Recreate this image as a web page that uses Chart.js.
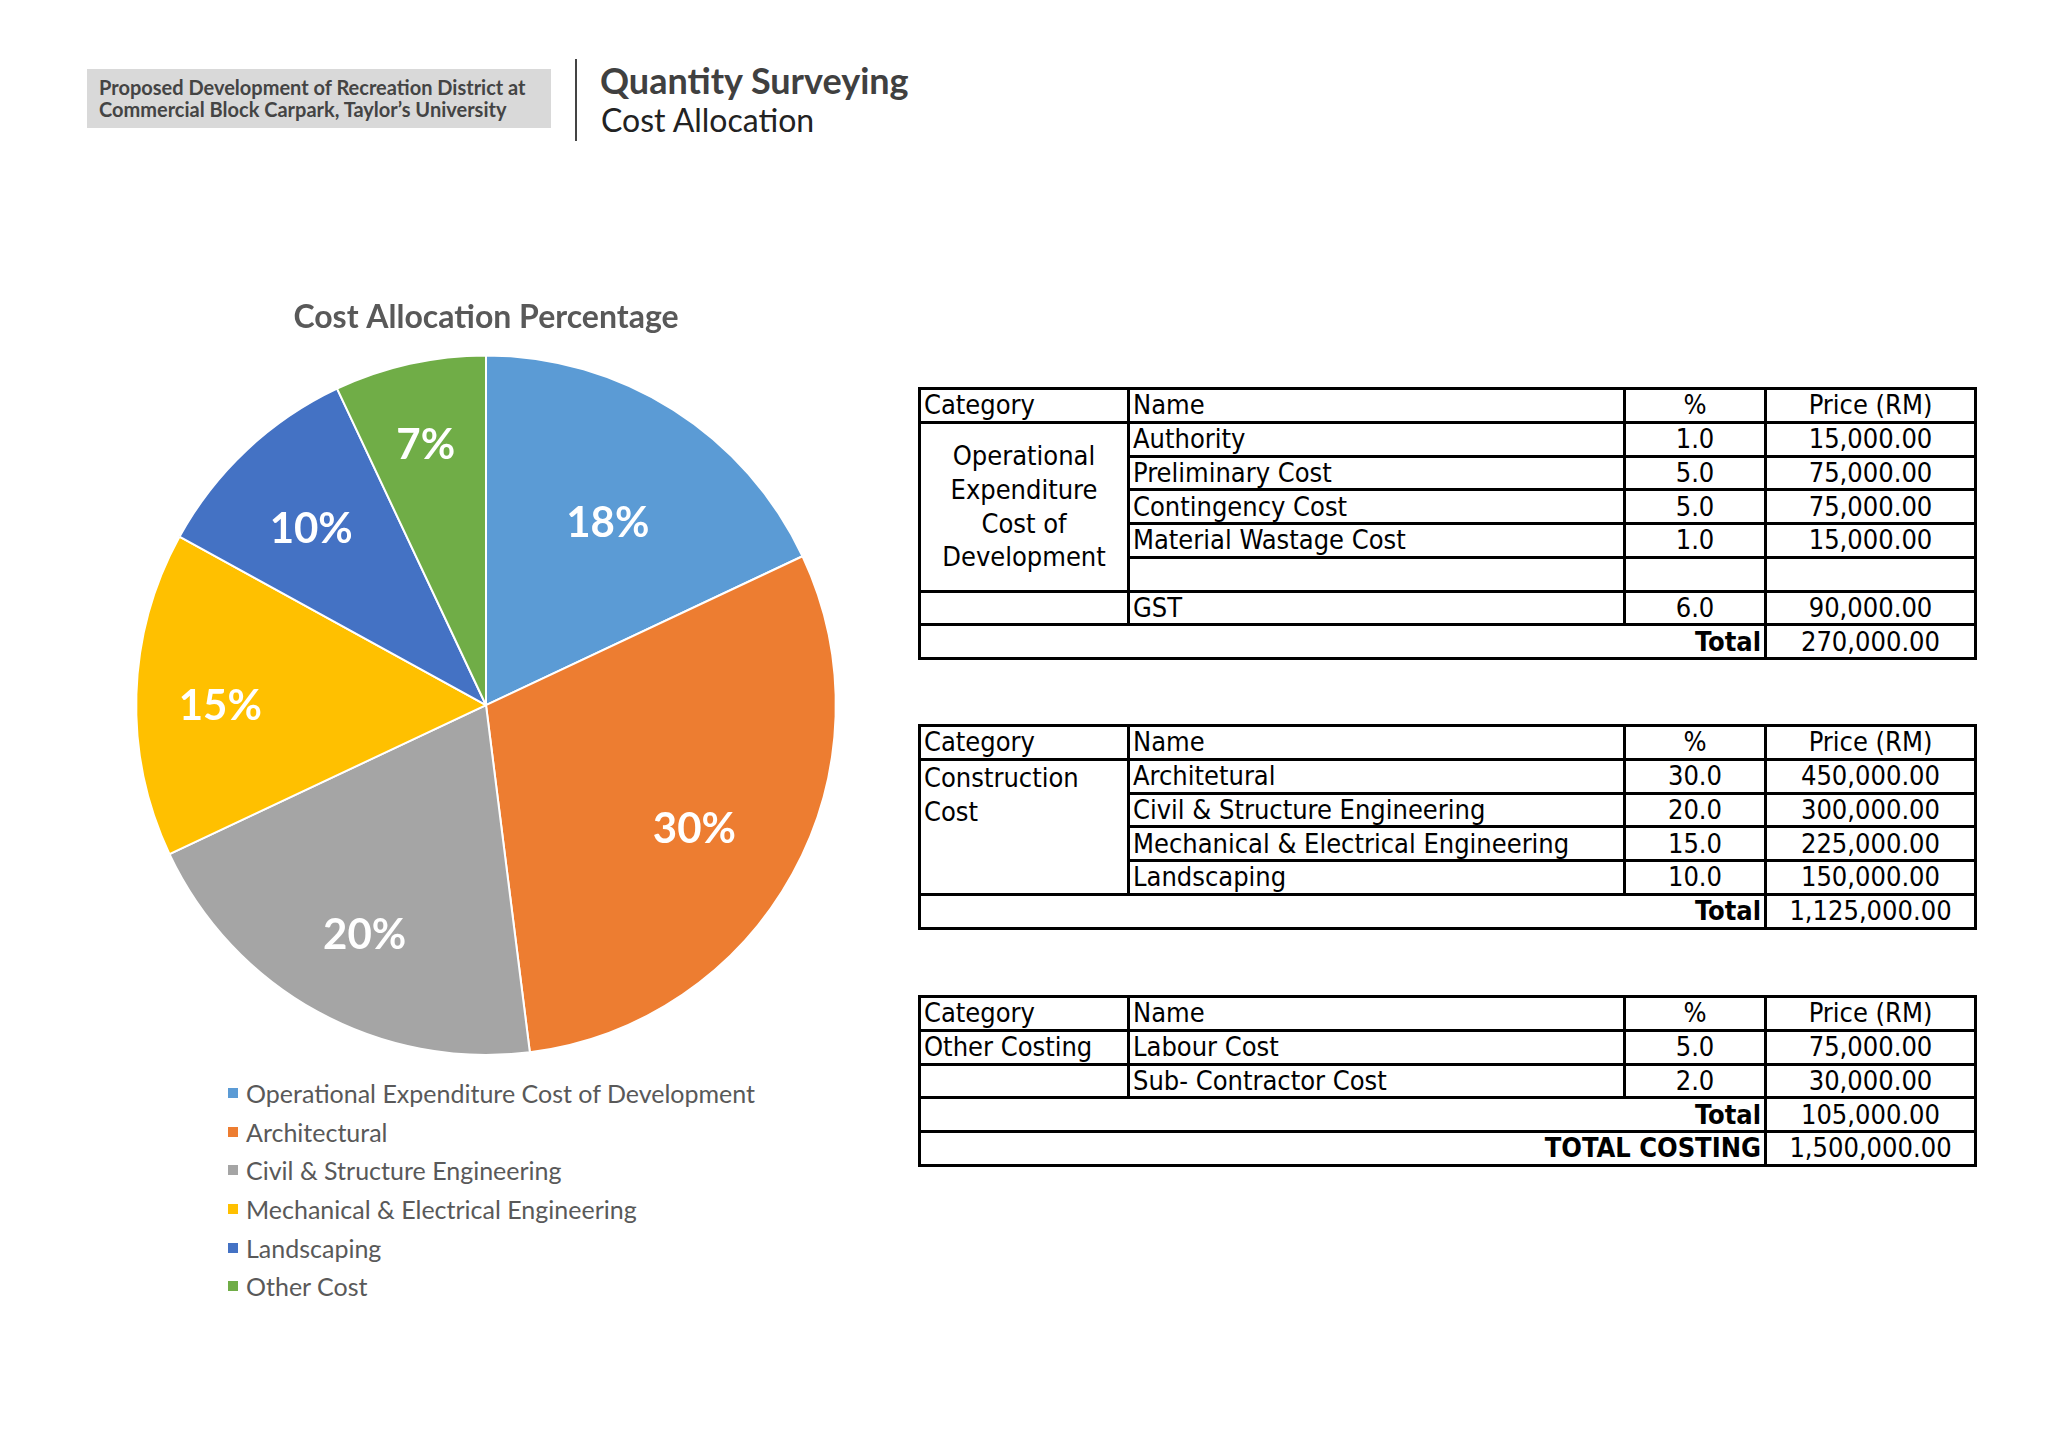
<!DOCTYPE html>
<html>
<head>
<meta charset="utf-8">
<script src="https://cdn.jsdelivr.net/npm/chart.js@4.4.1/dist/chart.umd.min.js"></script>
<style>
  body { margin: 0; width: 2048px; height: 1448px; background: #fff; position: relative; overflow: hidden; font-family: Lato, "Open Sans", sans-serif; }
  .projbox { position: absolute; left: 87px; top: 69px; width: 464px; height: 59px; background: #d9d9d9; }
  .projbox div { position: absolute; left: 12px; font-size: 20px; font-weight: 700; color: #444; white-space: nowrap; }
  .vline { position: absolute; left: 575px; top: 59px; width: 2px; height: 82px; background: #444; }
  .h1 { position: absolute; left: 600px; top: 58px; font-size: 36px; font-weight: 700; color: #404040; white-space: nowrap; }
  .h2 { position: absolute; left: 601px; top: 100px; font-size: 32px; color: #222; white-space: nowrap; }
  #pieWrap { position: absolute; left: 86px; top: 270px; width: 800px; height: 786px; }
  #legend { position: absolute; left: 228px; top: 1074px; margin: 0; padding: 0; list-style: none; }
  #legend li { height: 38.6px; font-size: 25px; color: #595959; display: flex; align-items: center; white-space: nowrap; }
  #legend span { display: inline-block; width: 10px; height: 10px; margin-right: 8px; }
  table { position: absolute; left: 918px; width: 1056px; border-collapse: collapse; table-layout: fixed;
          font-family: "Liberation Sans Narrow", "DejaVu Sans Condensed", sans-serif; font-size: 27px; color: #000; }
  td { border: 3px solid #000; height: 30.75px; padding: 0 3px; line-height: 30px; white-space: nowrap; }
  td.c { text-align: center; }
  td.r { text-align: right; font-weight: 700; }
</style>
</head>
<body>
<div class="projbox">
  <div style="top:6px">Proposed Development of Recreation District at</div>
  <div style="top:28px">Commercial Block Carpark, Taylor’s University</div>
</div>
<div class="vline"></div>
<div class="h1">Quantity Surveying</div>
<div class="h2">Cost Allocation</div>

<div id="pieWrap"><canvas id="pieChart"></canvas></div>
<ul id="legend"></ul>

<table id="t1" style="top:387px"></table>
<table id="t2" style="top:724px"></table>
<table id="t3" style="top:995px"></table>

<script>
// pie data
const pieTitle = 'Cost Allocation Percentage';
const pieLabels = [
  'Operational Expenditure Cost of Development',
  'Architectural',
  'Civil & Structure Engineering',
  'Mechanical & Electrical Engineering',
  'Landscaping',
  'Other Cost'
];
const pieValues = [18, 30, 20, 15, 10, 7];
const pieColors = ['#5B9BD5', '#ED7D31', '#A5A5A5', '#FFC000', '#4472C4', '#70AD47'];

// table data
const tableHeader = ['Category', 'Name', '%', 'Price (RM)'];
const opexNames = ['Authority', 'Preliminary Cost', 'Contingency Cost', 'Material Wastage Cost', ''];
const opexPct = ['1.0', '5.0', '5.0', '1.0', ''];
const opexPrice = ['15,000.00', '75,000.00', '75,000.00', '15,000.00', ''];
const gstRow = ['GST', '6.0', '90,000.00'];
const opexTotal = '270,000.00';

const consNames = ['Architetural', 'Civil & Structure Engineering', 'Mechanical & Electrical Engineering', 'Landscaping'];
const consPct = ['30.0', '20.0', '15.0', '10.0'];
const consPrice = ['450,000.00', '300,000.00', '225,000.00', '150,000.00'];
const consTotal = '1,125,000.00';

const otherNames = ['Labour Cost', 'Sub- Contractor Cost'];
const otherPct = ['5.0', '2.0'];
const otherPrice = ['75,000.00', '30,000.00'];
const otherTotal = '105,000.00';
const grandTotal = '1,500,000.00';

// how far out (fraction of radius) each percentage label sits, like Excel's best fit
const labelDepth = [0.65, 0.68, 0.72, 0.76, 0.73, 0.79];

const colgroup = '<colgroup><col style="width:209px"><col style="width:496px"><col style="width:141px"><col style="width:210px"></colgroup>';
const headRow = `<tr><td>${tableHeader[0]}</td><td>${tableHeader[1]}</td><td class="c">${tableHeader[2]}</td><td class="c">${tableHeader[3]}</td></tr>`;

function bodyRow(cat, name, pct, price) {
  return cat + `<td>${name}</td><td class="c">${pct}</td><td class="c">${price}</td></tr>`;
}

// table 1
let h = colgroup + headRow;
opexNames.forEach((n, i) => {
  const cat = i === 0
    ? `<tr><td rowspan="${opexNames.length}" class="c" style="line-height:33.75px;white-space:normal">Operational<br>Expenditure<br>Cost of<br>Development</td>`
    : '<tr>';
  h += bodyRow(cat, n, opexPct[i], opexPrice[i]);
});
h += bodyRow('<tr><td></td>', gstRow[0], gstRow[1], gstRow[2]);
h += `<tr><td colspan="3" class="r">Total</td><td class="c">${opexTotal}</td></tr>`;
document.getElementById('t1').innerHTML = h;

// table 2
h = colgroup + headRow;
consNames.forEach((n, i) => {
  const cat = i === 0
    ? `<tr><td rowspan="${consNames.length}" style="vertical-align:top;line-height:33.75px;padding-top:0">Construction<br>Cost</td>`
    : '<tr>';
  h += bodyRow(cat, n, consPct[i], consPrice[i]);
});
h += `<tr><td colspan="3" class="r">Total</td><td class="c">${consTotal}</td></tr>`;
document.getElementById('t2').innerHTML = h;

// table 3
h = colgroup + headRow;
otherNames.forEach((n, i) => {
  h += bodyRow(`<tr><td>${i === 0 ? 'Other Costing' : ''}</td>`, n, otherPct[i], otherPrice[i]);
});
h += `<tr><td colspan="3" class="r">Total</td><td class="c">${otherTotal}</td></tr>`;
h += `<tr><td colspan="3" class="r">TOTAL COSTING</td><td class="c">${grandTotal}</td></tr>`;
document.getElementById('t3').innerHTML = h;

// percentage labels inside the slices
const sliceLabels = {
  id: 'sliceLabels',
  afterDatasetsDraw(chart) {
    const ctx = chart.ctx;
    const meta = chart.getDatasetMeta(0);
    ctx.save();
    ctx.fillStyle = '#fff';
    ctx.font = 'bold 42px Lato, "Open Sans", sans-serif';
    ctx.textAlign = 'center';
    ctx.textBaseline = 'middle';
    meta.data.forEach((arc, i) => {
      const p = arc.getProps(['x', 'y', 'startAngle', 'endAngle', 'outerRadius'], true);
      const mid = (p.startAngle + p.endAngle) / 2;
      const r = p.outerRadius * labelDepth[i];
      ctx.fillText(chart.data.datasets[0].data[i] + '%', p.x + Math.cos(mid) * r, p.y + Math.sin(mid) * r + 10);
    });
    ctx.restore();
  }
};

const pieChart = new Chart(document.getElementById('pieChart'), {
  type: 'pie',
  data: {
    labels: pieLabels,
    datasets: [{
      data: pieValues,
      backgroundColor: pieColors,
      borderColor: '#fff',
      borderWidth: 2,
      hoverOffset: 0
    }]
  },
  options: {
    responsive: true,
    maintainAspectRatio: false,
    animation: false,
    layout: { padding: 0 },
    plugins: {
      legend: { display: false },
      tooltip: { enabled: false },
      title: {
        display: true,
        text: pieTitle,
        color: '#595959',
        font: { family: 'Lato', size: 32, weight: 'bold', lineHeight: 1.2 },
        padding: { top: 28, bottom: 18 }
      }
    }
  },
  plugins: [sliceLabels]
});

// legend built from the chart's own data
const legendEl = document.getElementById('legend');
pieChart.data.labels.forEach((lab, i) => {
  const li = document.createElement('li');
  li.innerHTML = `<span style="background:${pieChart.data.datasets[0].backgroundColor[i]}"></span>${lab}`;
  legendEl.appendChild(li);
});
</script>
</body>
</html>
